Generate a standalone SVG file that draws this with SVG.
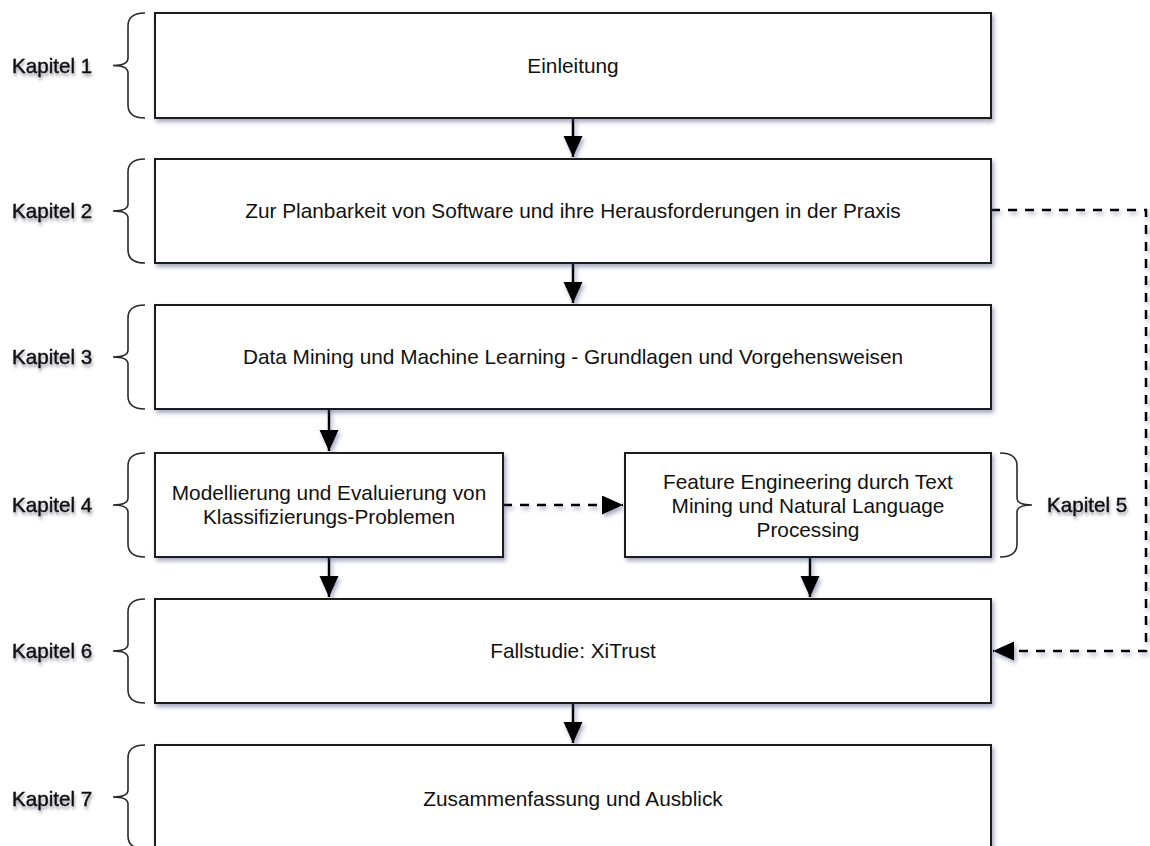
<svg xmlns="http://www.w3.org/2000/svg" width="1150" height="846" viewBox="0 0 1150 846">
  <style>
    .box { fill: #ffffff; stroke: #1a1a1a; stroke-width: 2; }
    .txt { font-family: "Liberation Sans", Arial, sans-serif; font-size: 20.8px; fill: #111111; text-anchor: middle; }
    .lbl { font-family: "Liberation Sans", Arial, sans-serif; font-size: 20.6px; fill: #111111; stroke: #111111; stroke-width: 0.45; }
    .brace { fill: none; stroke: #2a2a2a; stroke-width: 1.6; }
    .edge { fill: none; stroke: #000000; stroke-width: 2.5; }
    .dash { stroke-dasharray: 9 8; }
  </style>
  <defs>
    <filter id="shadow" x="-10%" y="-10%" width="130%" height="140%">
      <feDropShadow dx="2" dy="3" stdDeviation="2" flood-color="#3c4275" flood-opacity="0.45"/>
    </filter>
    <filter id="tshadow" x="-10%" y="-30%" width="130%" height="180%">
      <feDropShadow dx="1" dy="3" stdDeviation="1.6" flood-color="#555566" flood-opacity="0.55"/>
    </filter>
    <marker id="arrow" markerWidth="24" markerHeight="20" refX="21" refY="9.5" orient="auto" markerUnits="userSpaceOnUse">
      <path d="M0,0 L21,9.5 L0,19 z" fill="#000000"/>
    </marker>
  </defs>

  <rect width="1150" height="846" fill="#ffffff"/>

  <!-- chapter labels with braces -->
  <g id="labels">
    <g id="kap1">
      <path class="brace" d="M145,13 Q128,13 128,26 L128,58 Q128,65.5 113,65.5 Q128,65.5 128,73 L128,105 Q128,118 145,118"/>
      <text class="lbl" x="12" y="73" filter="url(#tshadow)">Kapitel 1</text>
    </g>
    <g id="kap2">
      <path class="brace" d="M145,159 Q128,159 128,172 L128,204 Q128,211 113,211 Q128,211 128,218 L128,250 Q128,263 145,263"/>
      <text class="lbl" x="12" y="218" filter="url(#tshadow)">Kapitel 2</text>
    </g>
    <g id="kap3">
      <path class="brace" d="M145,305 Q128,305 128,318 L128,350 Q128,357 113,357 Q128,357 128,364 L128,396 Q128,409 145,409"/>
      <text class="lbl" x="12" y="364" filter="url(#tshadow)">Kapitel 3</text>
    </g>
    <g id="kap4">
      <path class="brace" d="M145,453 Q128,453 128,466 L128,498 Q128,505 113,505 Q128,505 128,512 L128,544 Q128,557 145,557"/>
      <text class="lbl" x="12" y="512" filter="url(#tshadow)">Kapitel 4</text>
    </g>
    <g id="kap5">
      <path class="brace" d="M1000,453 Q1017,453 1017,466 L1017,498 Q1017,505 1032,505 Q1017,505 1017,512 L1017,544 Q1017,557 1000,557"/>
      <text class="lbl" x="1047" y="512" filter="url(#tshadow)">Kapitel 5</text>
    </g>
    <g id="kap6">
      <path class="brace" d="M145,599 Q128,599 128,612 L128,644 Q128,651 113,651 Q128,651 128,658 L128,690 Q128,703 145,703"/>
      <text class="lbl" x="12" y="658" filter="url(#tshadow)">Kapitel 6</text>
    </g>
    <g id="kap7">
      <path class="brace" d="M145,745 Q128,745 128,758 L128,790 Q128,797 113,797 Q128,797 128,804 L128,836 Q128,849 145,849"/>
      <text class="lbl" x="12" y="806" filter="url(#tshadow)">Kapitel 7</text>
    </g>
  </g>

  <!-- connectors -->
  <g id="connectors" filter="url(#shadow)">
    <path class="edge" d="M573,118 L573,157" marker-end="url(#arrow)"/>
    <path class="edge" d="M573,263 L573,303" marker-end="url(#arrow)"/>
    <path class="edge" d="M329,409 L329,451" marker-end="url(#arrow)"/>
    <path class="edge" d="M329,557 L329,597" marker-end="url(#arrow)"/>
    <path class="edge" d="M810,557 L810,597" marker-end="url(#arrow)"/>
    <path class="edge" d="M573,703 L573,743" marker-end="url(#arrow)"/>
    <path class="edge dash" d="M503,505 L623,505" marker-end="url(#arrow)"/>
    <path class="edge dash" d="M991,210 L1146,210 L1146,651 L993,651" marker-end="url(#arrow)"/>
  </g>

  <!-- chapter boxes -->
  <g id="n1">
    <rect class="box" x="155" y="13" width="836" height="105" filter="url(#shadow)"/>
    <text class="txt" x="573" y="73">Einleitung</text>
  </g>
  <g id="n2">
    <rect class="box" x="155" y="159" width="836" height="104" filter="url(#shadow)"/>
    <text class="txt" x="573" y="218">Zur Planbarkeit von Software und ihre Herausforderungen in der Praxis</text>
  </g>
  <g id="n3">
    <rect class="box" x="155" y="305" width="836" height="104" filter="url(#shadow)"/>
    <text class="txt" x="573" y="364">Data Mining und Machine Learning - Grundlagen und Vorgehensweisen</text>
  </g>
  <g id="n4">
    <rect class="box" x="155" y="453" width="348" height="104" filter="url(#shadow)"/>
    <text class="txt" x="329" y="500">Modellierung und Evaluierung von</text>
    <text class="txt" x="329" y="524">Klassifizierungs-Problemen</text>
  </g>
  <g id="n5">
    <rect class="box" x="625" y="453" width="366" height="104" filter="url(#shadow)"/>
    <text class="txt" x="808" y="489">Feature Engineering durch Text</text>
    <text class="txt" x="808" y="513">Mining und Natural Language</text>
    <text class="txt" x="808" y="537">Processing</text>
  </g>
  <g id="n6">
    <rect class="box" x="155" y="599" width="836" height="104" filter="url(#shadow)"/>
    <text class="txt" x="573" y="658">Fallstudie: XiTrust</text>
  </g>
  <g id="n7">
    <rect class="box" x="155" y="745" width="836" height="110" filter="url(#shadow)"/>
    <text class="txt" x="573" y="806">Zusammenfassung und Ausblick</text>
  </g>
</svg>
